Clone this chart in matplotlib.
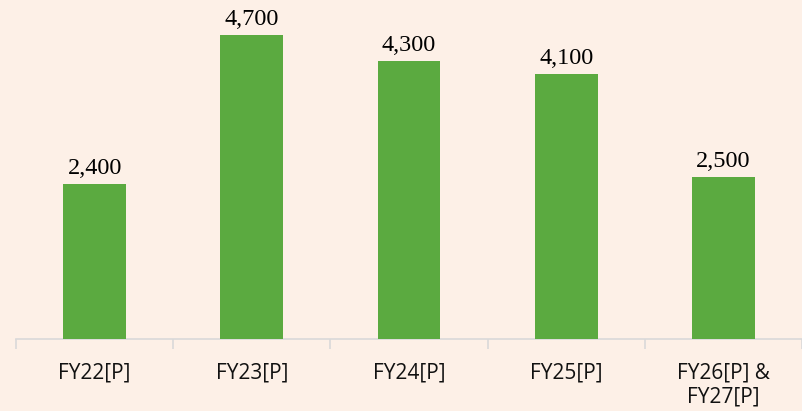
import numpy as np
import matplotlib.pyplot as plt
from matplotlib.ticker import FixedLocator

# data
categories = ['FY22[P]', 'FY23[P]', 'FY24[P]', 'FY25[P]', 'FY26[P] &\nFY27[P]']
values = [2400, 4700, 4300, 4100, 2500]

bg = '#FDF0E7'
green = '#5BAA40'

fig = plt.figure(figsize=(8.02, 4.11), dpi=100, facecolor=bg)
ax = fig.add_axes([16 / 802, 72 / 411, 786 / 802, 339 / 411])
ax.set_facecolor(bg)

x = np.arange(len(categories))
bars = ax.bar(x, values, width=0.4, color=green, zorder=3)

for b, v in zip(bars, values):
    ax.text(b.get_x() + b.get_width() / 2, v + 80, f'{v:,}',
            ha='center', va='bottom', fontsize=17.5,
            family='Liberation Serif', color='black')

ax.set_xlim(-0.5, len(categories) - 0.5)
ax.set_ylim(0, 5241)

for s in ['top', 'right', 'left']:
    ax.spines[s].set_visible(False)
ax.spines['bottom'].set_color('#D9D9D9')
ax.spines['bottom'].set_linewidth(1.2)

ax.set_yticks([])
ax.set_xticks(x)
ax.set_xticklabels(categories, fontsize=15, family='Open Sans',
                   linespacing=1.15, va='top', color='#111111')
ax.tick_params(axis='x', which='major', length=0, pad=17)
ax.xaxis.set_minor_locator(FixedLocator(np.arange(-0.5, len(categories), 1.0)))
ax.tick_params(axis='x', which='minor', length=7, color='#D9D9D9', width=1.2)

fig.savefig('out.png', dpi=100, facecolor=bg)
